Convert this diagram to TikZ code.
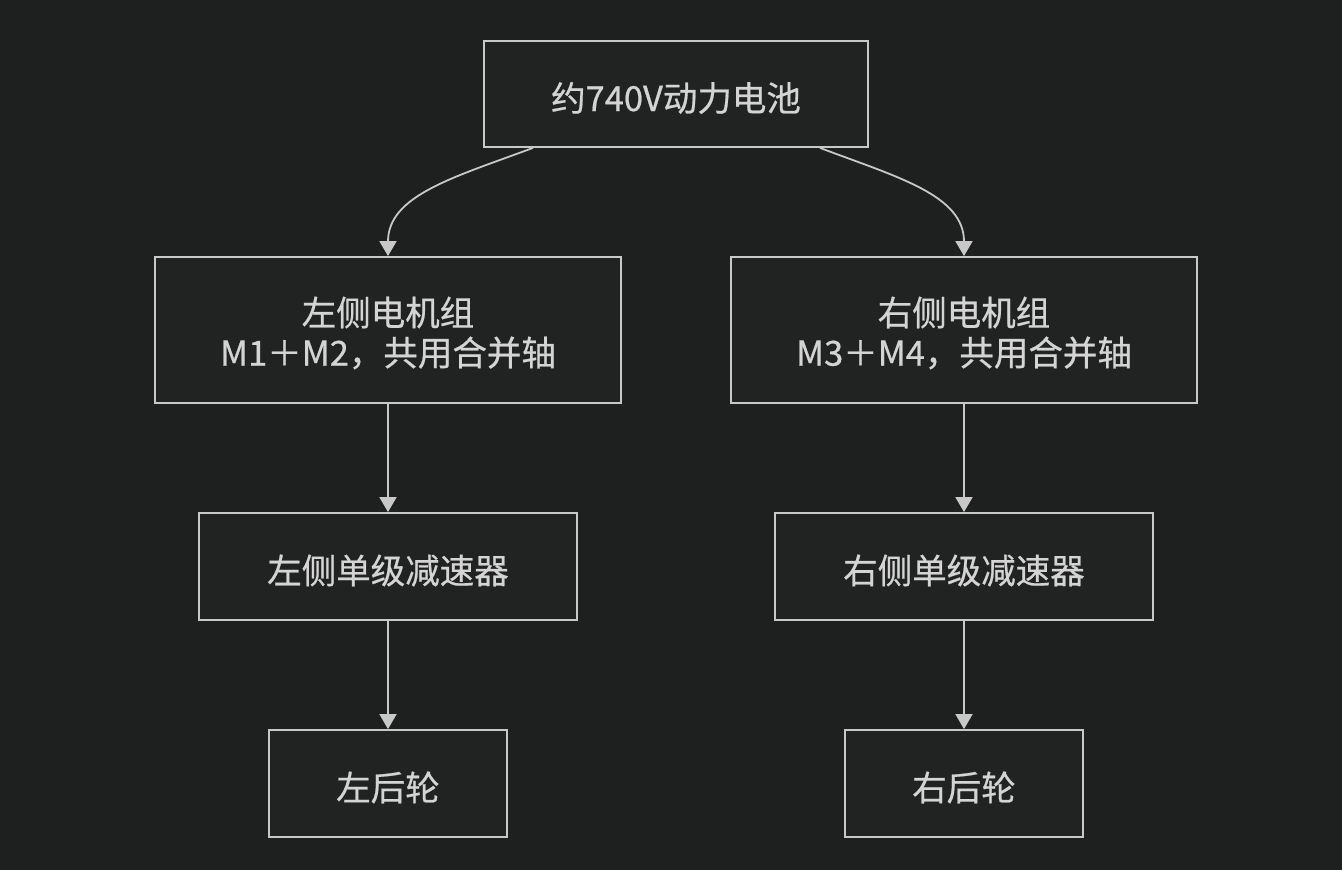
\documentclass[tikz,border=0pt]{standalone}
\usepackage{fontspec}
\setmainfont{Noto Sans CJK SC}
\newfontfamily\cjkm{Noto Sans CJK SC}[FakeBold=0.6]
\usetikzlibrary{arrows.meta}
\definecolor{bg}{HTML}{1E1F1F}
\definecolor{boxfill}{HTML}{212222}
\definecolor{edge}{HTML}{C8C8C8}
\definecolor{txt}{HTML}{D4D4D4}
\begin{document}
\begin{tikzpicture}[x=1pt,y=-1pt,
  box/.style={draw=edge,line width=1.8pt,fill=boxfill,inner sep=0pt},
  lbl/.style={text=txt,inner sep=0pt,font=\cjkm\fontsize{34.5}{40}\selectfont,align=center},
  arr/.style={draw=edge,line width=1.8pt,-{Triangle[width=17pt,length=15pt]}}]
\fill[bg] (0,0) rectangle (1342,870);
\useasboundingbox (0,0) rectangle (1342,870);
\node[box,minimum width=384pt,minimum height=106pt] (bat) at (676,94) {};
\node[box,minimum width=466pt,minimum height=146pt] (lm) at (388,330) {};
\node[box,minimum width=466pt,minimum height=146pt] (rm) at (964,330) {};
\node[box,minimum width=378pt,minimum height=107pt] (lr) at (388,566.5) {};
\node[box,minimum width=378pt,minimum height=107pt] (rr) at (964,566.5) {};
\node[box,minimum width=238pt,minimum height=107pt] (lw) at (388,783.5) {};
\node[box,minimum width=238pt,minimum height=107pt] (rw) at (964,783.5) {};
\node[lbl] (tbat) at ([yshift=-4pt]bat.center) {约740V动力电池};
\node[lbl] (tlm) at ([yshift=-3pt]lm.center) {左侧电机组\\M1＋M2，共用合并轴};
\node[lbl] (trm) at ([yshift=-3pt]rm.center) {右侧电机组\\M3＋M4，共用合并轴};
\node[lbl] (tlr) at ([yshift=-4pt]lr.center) {左侧单级减速器};
\node[lbl] (trr) at ([yshift=-4pt]rr.center) {右侧单级减速器};
\node[lbl] (tlw) at ([yshift=-4pt]lw.center) {左后轮};
\node[lbl] (trw) at ([yshift=-4pt]rw.center) {右后轮};
\draw[arr] ([xshift=-143pt]bat.south) .. controls (455,177) and (388,195) .. (lm.north);
\draw[arr] ([xshift=144pt]bat.south) .. controls (897,177) and (964,195) .. (rm.north);
\draw[arr] (lm.south) -- (lr.north);
\draw[arr] (rm.south) -- (rr.north);
\draw[arr] (lr.south) -- (lw.north);
\draw[arr] (rr.south) -- (rw.north);
\end{tikzpicture}
\end{document}
